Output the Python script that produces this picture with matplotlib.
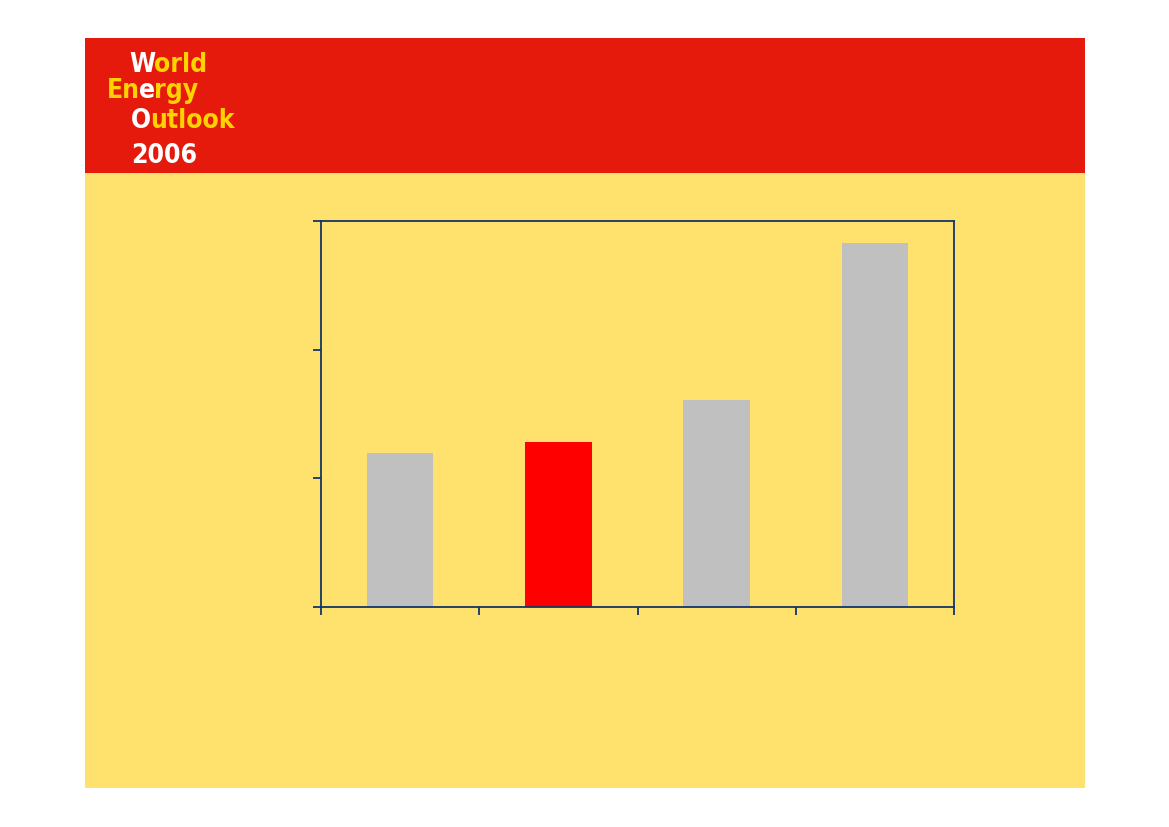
import matplotlib
matplotlib.use('Agg')
from matplotlib import pyplot as plt
from matplotlib.patches import Rectangle

# bar heights (no labels are shown in the original)
values = [1.2, 1.28, 1.61, 2.83]
bar_colors = ['#C0C0C0', '#FF0000', '#C0C0C0', '#C0C0C0']
y_ticks = [0, 1, 2, 3]
x_ticks = [-0.5, 0.5, 1.5, 2.5, 3.5]

# logo pieces: (text, colour) per line
logo_lines = [
    [('W', 'white'), ('orld', '#FFD200')],
    [('En', '#FFD200'), ('e', 'white'), ('rgy', '#FFD200')],
    [('O', 'white'), ('utlook', '#FFD200')],
    [('2006', 'white')],
]
logo_pos = [(129, 72), (107, 97.5), (131, 128), (131, 163)]

W, H = 1169, 827
fig = plt.figure(figsize=(W / 100, H / 100), dpi=100)
fig.patch.set_facecolor('white')

# background panel and red header band
fig.add_artist(Rectangle((85 / W, 1 - 788 / H), 1000 / W, 750 / H,
                         transform=fig.transFigure, facecolor='#FFE26E',
                         edgecolor='none', zorder=0))
fig.add_artist(Rectangle((85 / W, 1 - 172.5 / H), 1000 / W, 134.5 / H,
                         transform=fig.transFigure, facecolor='#E5190C',
                         edgecolor='none', zorder=0))

navy = '#12356A'
ax = fig.add_axes([320.7 / W, 1 - 607 / H, 633.6 / W, 385.7 / H])
ax.set_facecolor('none')
ax.bar(range(len(values)), values, width=0.42, color=bar_colors,
       edgecolor='none', zorder=2)
ax.set_xlim(-0.5, 3.5)
ax.set_ylim(0, 3)
ax.set_xticks(x_ticks)
ax.set_yticks(y_ticks)
ax.set_xticklabels([])
ax.set_yticklabels([])
for s in ax.spines.values():
    s.set_color(navy)
    s.set_linewidth(1.3)
ax.tick_params(axis='both', direction='out', length=5.5, width=1.3, color=navy)

# logo text, piece by piece
fig.canvas.draw()
renderer = fig.canvas.get_renderer()
for line, (px, py) in zip(logo_lines, logo_pos):
    x = px
    for txt, col in line:
        t = fig.text(x / W, 1 - py / H, txt, color=col, fontsize=19,
                     fontweight='bold', fontstretch='condensed',
                     va='baseline', ha='left',
                     family=['DejaVu Sans'])
        bb = t.get_window_extent(renderer=renderer)
        x += bb.width * 0.96

fig.savefig('out.png', dpi=100)
